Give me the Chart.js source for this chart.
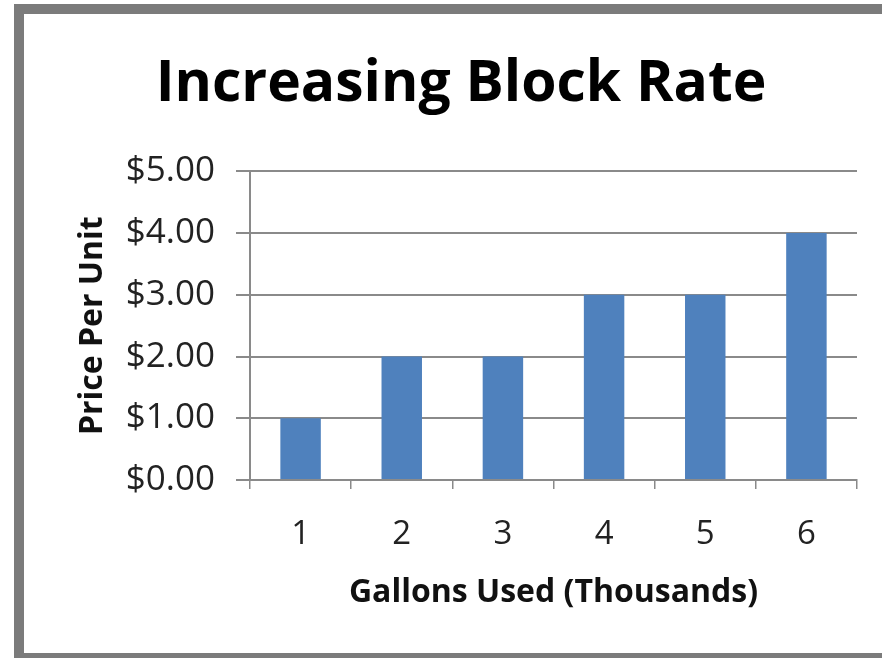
<!DOCTYPE html>
<html>
<head>
<meta charset="utf-8">
<script src="https://cdn.jsdelivr.net/npm/chart.js@4/dist/chart.umd.min.js"></script>
<style>
  html, body { margin:0; padding:0; background:#fff; overflow:hidden; }
  canvas { display:block; }
</style>
</head>
<body>
<canvas id="chart" width="882" height="658"></canvas>
<script>
// Increasing block rate chart
const categories = ['1', '2', '3', '4', '5', '6'];
const prices = [1, 2, 2, 3, 3, 4];
const yTicks = [0, 1, 2, 3, 4, 5];

const money = v => '$' + v.toFixed(2);
const FONT = '"Open Sans", sans-serif';

// gray frame round the picture (open on the right, as in the screenshot)
const frame = {
  id: 'frame',
  afterDraw(chart) {
    const c = chart.ctx;
    c.save();
    c.fillStyle = '#7b7b7b';
    c.fillRect(14, 4, chart.width - 14, 10);
    c.fillRect(14, 4, 10, chart.height - 4);
    c.fillRect(14, 653, chart.width - 14, 10);
    c.restore();
  }
};

new Chart(document.getElementById('chart').getContext('2d'), {
  type: 'bar',
  data: {
    labels: categories,
    datasets: [{ label: 'Price Per Unit', data: prices, backgroundColor: '#4f81bd', barPercentage: 0.4, categoryPercentage: 1 }]
  },
  plugins: [frame],
  options: {
    responsive: false,
    animation: false,
    layout: { padding: { left: 65, right: 25, top: 0, bottom: 0 } },
    plugins: {
      legend: { display: false },
      tooltip: { enabled: false },
      title: {
        display: true, text: 'Increasing Block Rate', color: '#000',
        font: { family: FONT, size: 57, weight: 'bold' },
        padding: { top: 51, bottom: 52 }
      }
    },
    scales: {
      x: {
        grid: { offset: true, drawOnChartArea: false, drawTicks: true, tickLength: 9, color: '#8a8a8a', lineWidth: 1.5 },
        border: { color: '#8a8a8a', width: 2 },
        ticks: { color: '#222', font: { family: FONT, size: 33 }, padding: 26 },
        title: { display: true, text: 'Gallons Used (Thousands)', color: '#111', font: { family: FONT, size: 32, weight: 'bold' }, padding: { top: 8, bottom: 46 } },
        afterFit: s => { s.height = 178; }
      },
      y: {
        min: 0, max: 5,
        afterBuildTicks: s => { s.ticks = yTicks.map(v => ({ value: v })); },
        grid: { color: '#8a8a8a', lineWidth: 2, tickLength: 14 },
        border: { color: '#8a8a8a', width: 2 },
        ticks: { color: '#222', font: { family: FONT, size: 35 }, padding: 21, callback: v => money(v) },
        title: { display: true, text: 'Price Per Unit', color: '#111', font: { family: FONT, size: 32, weight: 'bold' }, padding: { top: 9, bottom: 0 } },
        afterFit: s => { s.width = 185; }
      }
    }
  }
});
</script>
</body>
</html>
